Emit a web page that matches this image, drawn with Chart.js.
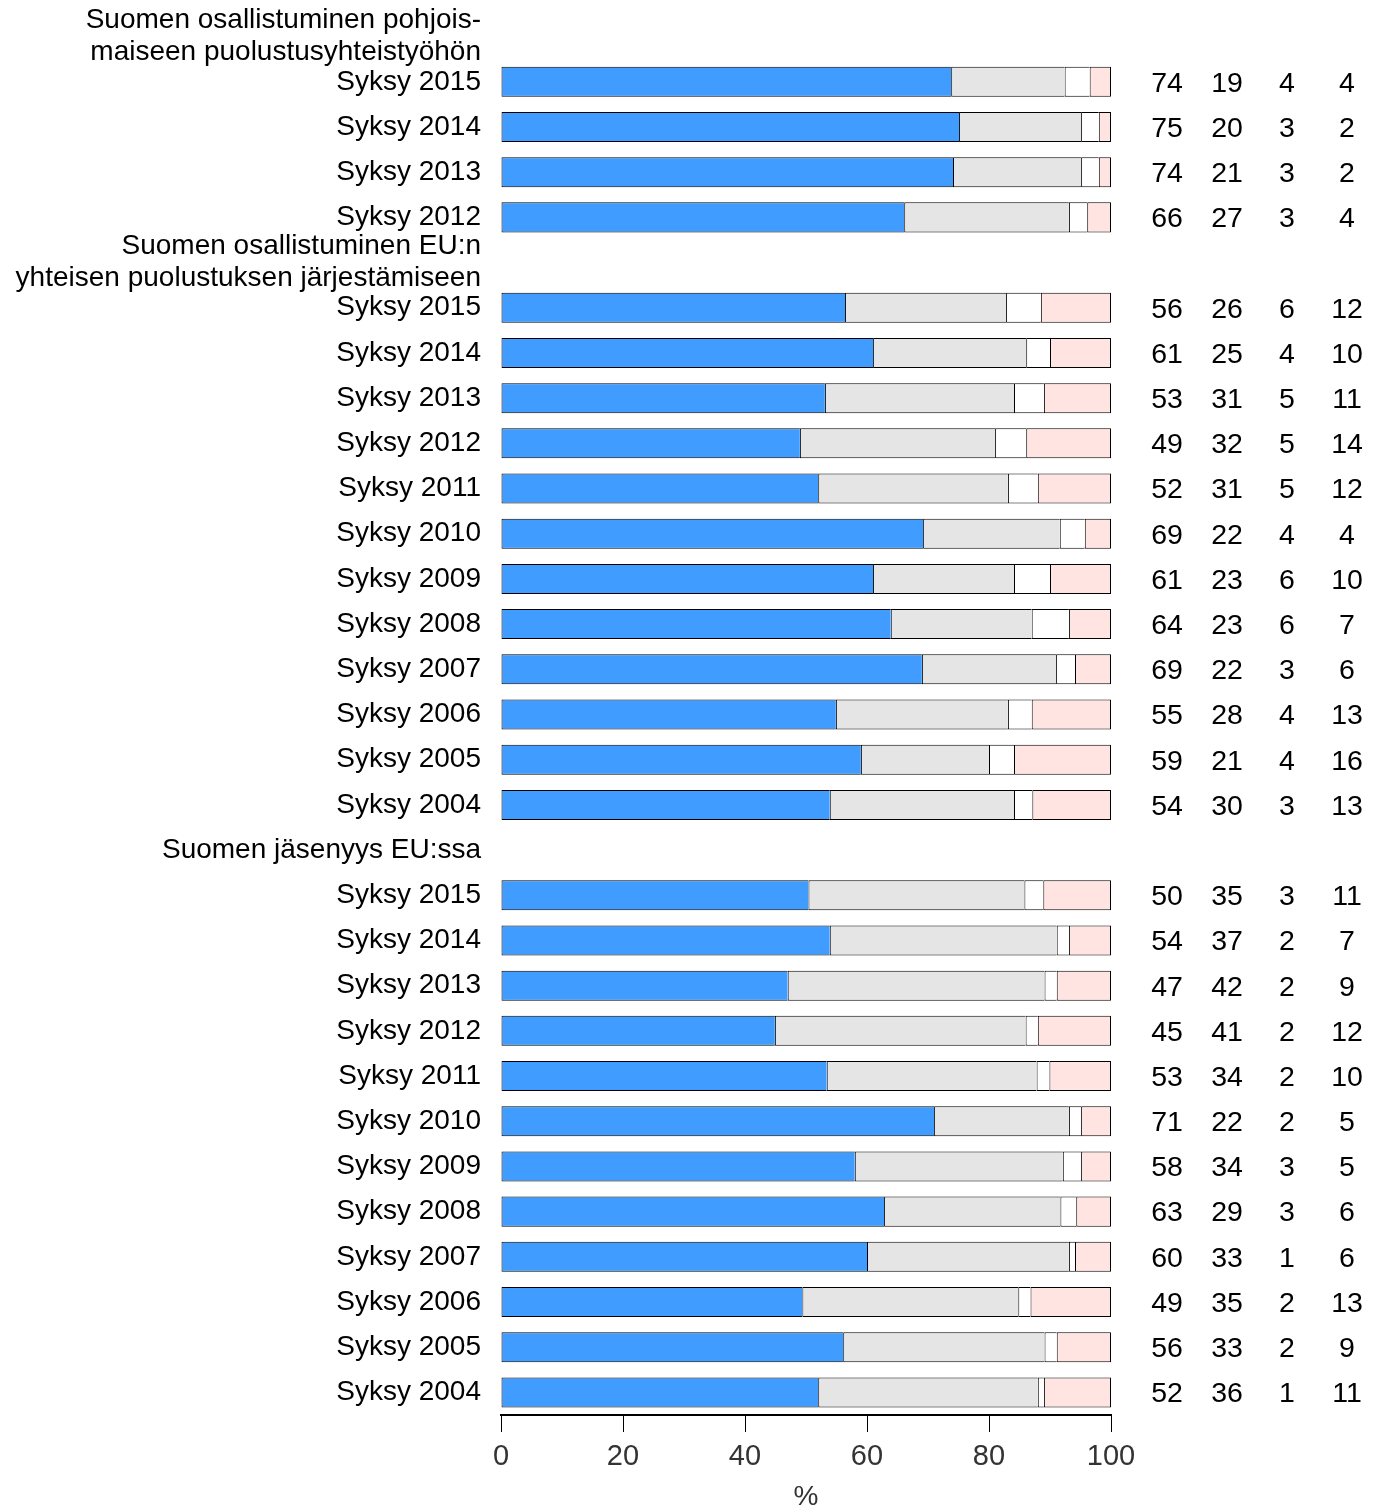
<!DOCTYPE html>
<html>
<head>
<meta charset="utf-8">
<script src="https://cdn.jsdelivr.net/npm/chart.js@4"></script>
<style>
  body { margin: 0; background: #fff; }
  #wrap { width: 1381px; height: 1507px; }
</style>
</head>
<body>
<div id="wrap"><canvas id="myChart" width="1381" height="1507"></canvas></div>
<script>
// group headings and the survey rounds under each
const groupTitles = [
    ["Suomen osallistuminen pohjois-", "maiseen puolustusyhteistyöhön"],
    ["Suomen osallistuminen EU:n", "yhteisen puolustuksen järjestämiseen"],
    ["Suomen jäsenyys EU:ssa"]
];
const groupYears = [
    ["Syksy 2015", "Syksy 2014", "Syksy 2013", "Syksy 2012"],
    ["Syksy 2015", "Syksy 2014", "Syksy 2013", "Syksy 2012", "Syksy 2011", "Syksy 2010",
     "Syksy 2009", "Syksy 2008", "Syksy 2007", "Syksy 2006", "Syksy 2005", "Syksy 2004"],
    ["Syksy 2015", "Syksy 2014", "Syksy 2013", "Syksy 2012", "Syksy 2011", "Syksy 2010",
     "Syksy 2009", "Syksy 2008", "Syksy 2007", "Syksy 2006", "Syksy 2005", "Syksy 2004"]
];

// shares (%) in row order, all three groups one after another
const blueShare = [73.8, 75.1, 74.1, 66.1,
    56.4, 61.0, 53.1, 49.0, 52.0, 69.2, 61.0, 63.9, 69.0, 54.9, 59.0, 53.9,
    50.4, 53.9, 47.0, 44.9, 53.4, 71.0, 58.0, 62.8, 60.0, 49.4, 56.1, 52.0];
const grayShare = [18.6, 20.0, 21.0, 27.0,
    26.4, 25.1, 31.0, 32.0, 31.1, 22.4, 23.1, 23.1, 22.0, 28.2, 21.0, 30.2,
    35.4, 37.2, 42.1, 41.1, 34.4, 22.1, 34.1, 28.9, 33.1, 35.4, 33.0, 36.0];
const whiteShare = [4.1, 2.9, 2.9, 3.0,
    5.7, 3.9, 4.9, 5.1, 4.9, 4.1, 5.9, 6.1, 3.1, 3.9, 4.1, 3.0,
    3.1, 2.0, 2.0, 2.0, 2.1, 2.0, 3.0, 2.6, 1.0, 2.0, 2.0, 1.0];
const pinkShare = [3.5, 2.0, 2.0, 3.9,
    11.5, 10.0, 11.0, 13.9, 12.0, 4.3, 10.0, 6.9, 5.9, 13.0, 15.9, 12.9,
    11.1, 6.9, 8.9, 12.0, 10.1, 4.9, 4.9, 5.7, 5.9, 13.2, 8.9, 11.0];

const xTicks = [0, 20, 40, 60, 80, 100];

// build category rows: heading row (no bar) followed by the years
const labels = [];
const rows = [[], [], [], []];
const shares = [blueShare, grayShare, whiteShare, pinkShare];
let k = 0;
groupTitles.forEach((title, g) => {
    labels.push(title);
    rows.forEach(r => r.push(null));
    groupYears[g].forEach(year => {
        labels.push(year);
        rows.forEach((r, s) => r.push(shares[s][k]));
        k++;
    });
});

const FONT = "'Liberation Sans', Arial, sans-serif";
Chart.defaults.font.family = FONT;
Chart.defaults.color = '#000';

const colors = ['#409CFF', '#E5E5E5', '#FFFFFF', '#FFE4E1'];

// printed numbers to the right of the bars
const valueColumns = {
    id: 'valueColumns',
    afterDraw(chart) {
        const {ctx, chartArea, scales: {y}} = chart;
        ctx.save();
        ctx.font = '28.5px ' + FONT;
        ctx.fillStyle = '#000';
        ctx.textAlign = 'center';
        ctx.textBaseline = 'middle';
        chart.data.datasets.forEach((ds, i) => {
            ds.data.forEach((v, j) => {
                if (v == null) return;
                ctx.fillText(String(Math.round(v)), chartArea.right + 56 + 60 * i, y.getPixelForValue(j) + 2);
            });
        });
        ctx.restore();
    }
};

new Chart(document.getElementById('myChart'), {
    type: 'bar',
    data: {
        labels: labels,
        datasets: rows.map((data, i) => ({
            data: data,
            backgroundColor: colors[i],
            borderColor: '#000',
            borderWidth: {top: 1, bottom: 1, left: 1, right: i === 3 ? 1 : 0},
            borderSkipped: false,
            barPercentage: 0.664,
            categoryPercentage: 1
        }))
    },
    options: {
        indexAxis: 'y',
        responsive: false,
        animation: false,
        devicePixelRatio: 1,
        layout: {padding: {top: 14, right: 270, bottom: 0, left: 0}},
        plugins: {
            legend: {display: false},
            tooltip: {enabled: false}
        },
        scales: {
            x: {
                stacked: true,
                min: 0,
                max: 100,
                afterBuildTicks: scale => { scale.ticks = xTicks.map(v => ({value: v})); },
                grid: {display: true, drawOnChartArea: false, drawTicks: true, tickLength: 17, color: '#000', lineWidth: 1},
                border: {display: true, color: '#000', width: 2},
                ticks: {font: {size: 29}, padding: 8, color: '#333', maxRotation: 0},
                title: {display: true, text: '%', font: {size: 28, lineHeight: 0.7}, padding: {top: 0, bottom: 0}, color: '#333'},
                afterFit: scale => { scale.height = 92; scale.paddingLeft = 0; scale.paddingRight = 0; }
            },
            y: {
                stacked: true,
                grid: {display: false},
                border: {display: false},
                ticks: {font: {size: 28, lineHeight: 1.15}, padding: 12, autoSkip: false, color: '#000'},
                afterFit: scale => { scale.width = 501; scale.paddingTop = 0; scale.paddingBottom = 0; }
            }
        }
    },
    plugins: [valueColumns]
});
</script>
</body>
</html>
